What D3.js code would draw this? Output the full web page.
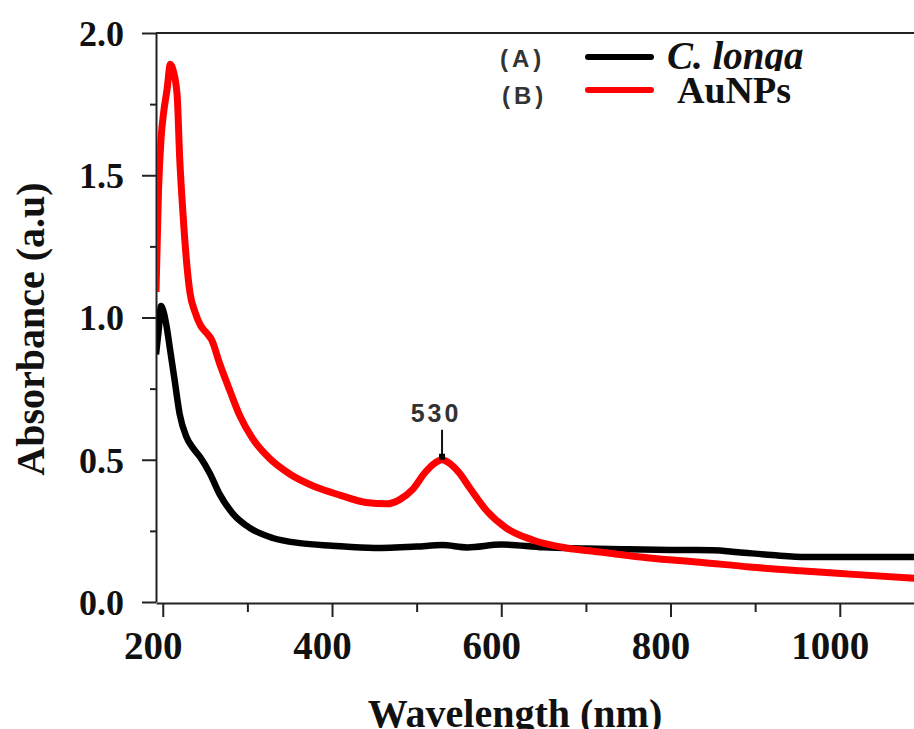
<!DOCTYPE html>
<html>
<head>
<meta charset="utf-8">
<script src="https://cdn.jsdelivr.net/npm/d3@7"></script>
<style>
  body { margin: 0; background: #fff; }
  svg { display: block; }
</style>
</head>
<body>
<div id="chart"></div>
<script>
// wavelength (nm) / absorbance
var longaWl  = [192, 195, 198, 201, 205, 208, 214, 220, 228, 236, 244, 256, 267, 283, 303, 330, 362, 400, 450, 500, 530, 560, 600, 650, 700, 750, 800, 850, 880, 920, 960, 1020, 1090];
var longaAbs = [0.87, 0.95, 1.04, 1.02, 0.96, 0.90, 0.78, 0.66, 0.58, 0.54, 0.51, 0.45, 0.38, 0.31, 0.26, 0.225, 0.207, 0.198, 0.19, 0.195, 0.20, 0.192, 0.202, 0.192, 0.188, 0.185, 0.183, 0.182, 0.175, 0.165, 0.158, 0.158, 0.158];

var aunpWl  = [192, 195, 198, 201, 205, 209, 213, 217, 220, 224, 228, 232, 238, 245, 252, 258, 267, 279, 291, 306, 326, 350, 380, 410, 440, 465, 480, 495, 510, 520, 530, 540, 550, 563, 583, 606, 637, 677, 716, 775, 835, 894, 953, 1012, 1090];
var aunpAbs = [1.09, 1.45, 1.63, 1.72, 1.80, 1.89, 1.86, 1.78, 1.56, 1.36, 1.20, 1.09, 1.02, 0.97, 0.945, 0.92, 0.84, 0.745, 0.655, 0.575, 0.505, 0.45, 0.405, 0.375, 0.35, 0.345, 0.36, 0.395, 0.455, 0.485, 0.50, 0.485, 0.455, 0.40, 0.32, 0.26, 0.218, 0.19, 0.176, 0.155, 0.14, 0.123, 0.11, 0.098, 0.083];

var xTicks = [200, 400, 600, 800, 1000];
var xMinor = [300, 500, 700, 900];
var yTicks = [0, 0.5, 1.0, 1.5, 2.0];
var yMinor = [0.25, 0.75, 1.25, 1.75];
var seriesNames = ["C. longa", "AuNPs"];
var seriesTags = ["(A)", "(B)"];
var peakWl = 530;

var W = 914, H = 729;
var serif = "'Liberation Serif', 'Times New Roman', serif";
var sans = "'Liberation Sans', Arial, sans-serif";

var svg = d3.select("#chart").append("svg")
    .attr("width", W)
    .attr("height", H);

var x = d3.scaleLinear().domain([192, 1100]).range([156, 924.4]);
var y = d3.scaleLinear().domain([0, 2]).range([602, 33]);

// clip so curves stop at the axes / picture edge
svg.append("clipPath").attr("id", "plot")
    .append("rect").attr("x", 157).attr("y", 33).attr("width", W - 157).attr("height", 569);

// minor ticks first
svg.append("g")
    .attr("transform", "translate(0,603)")
    .call(d3.axisBottom(x).tickValues(xMinor).tickSize(9).tickSizeOuter(0).tickFormat(""))
    .call(function (g) { g.select(".domain").remove(); });

svg.append("g")
    .attr("transform", "translate(156,0)")
    .call(d3.axisLeft(y).tickValues(yMinor).tickSize(6).tickSizeOuter(0).tickFormat(""))
    .call(function (g) { g.select(".domain").remove(); });

// x axis
var xAxis = svg.append("g")
    .attr("transform", "translate(0,603)")
    .call(d3.axisBottom(x).tickValues(xTicks).tickSize(14).tickSizeOuter(0).tickFormat(d3.format("d")));
xAxis.selectAll("text")
    .attr("y", 56).attr("dy", 0).attr("dx", -10)
    .attr("font-family", serif).attr("font-weight", "bold").attr("font-size", 39)
    .attr("fill", "#111");

// y axis
var yAxis = svg.append("g")
    .attr("transform", "translate(156,0)")
    .call(d3.axisLeft(y).tickValues(yTicks).tickSize(14).tickSizeOuter(0).tickFormat(d3.format(".1f")));
yAxis.selectAll("text")
    .attr("x", -32).attr("dy", "0.34em")
    .attr("font-family", serif).attr("font-weight", "bold").attr("font-size", 36)
    .attr("fill", "#111");

svg.selectAll(".tick line").attr("stroke", "#222").attr("stroke-width", 2);
svg.selectAll(".domain").attr("stroke", "#222").attr("stroke-width", 2);

// top frame line
svg.append("line")
    .attr("x1", 156).attr("x2", W)
    .attr("y1", y(2)).attr("y2", y(2))
    .attr("stroke", "#222").attr("stroke-width", 2);

// curves
var line = d3.line()
    .x(function (d) { return x(d[0]); })
    .y(function (d) { return y(d[1]); })
    .curve(d3.curveMonotoneX);

var plot = svg.append("g").attr("clip-path", "url(#plot)");

plot.append("path")
    .datum(d3.zip(longaWl, longaAbs))
    .attr("fill", "none")
    .attr("stroke", "#000")
    .attr("stroke-width", 6.5)
    .attr("stroke-linejoin", "round")
    .attr("d", line);

plot.append("path")
    .datum(d3.zip(aunpWl, aunpAbs))
    .attr("fill", "none")
    .attr("stroke", "#ff0000")
    .attr("stroke-width", 7)
    .attr("stroke-linejoin", "round")
    .attr("d", line);

// peak marker
var peakAbs = aunpAbs[aunpWl.indexOf(peakWl)];
svg.append("line")
    .attr("x1", x(peakWl)).attr("x2", x(peakWl))
    .attr("y1", y(peakAbs) - 30).attr("y2", y(peakAbs) - 3)
    .attr("stroke", "#111").attr("stroke-width", 2);
svg.append("rect")
    .attr("x", x(peakWl) - 3).attr("y", y(peakAbs) - 6)
    .attr("width", 6).attr("height", 6)
    .attr("fill", "#000");
svg.append("text")
    .attr("x", x(peakWl) - 6).attr("y", y(peakAbs) - 38)
    .attr("text-anchor", "middle")
    .attr("font-family", sans).attr("font-weight", "bold").attr("font-size", 25)
    .attr("letter-spacing", 3)
    .attr("fill", "#333")
    .text(peakWl);

// legend
var legColors = ["#000", "#ff0000"];
var legY = [57, 90];
legY.forEach(function (ly, i) {
    svg.append("line")
        .attr("x1", 588).attr("x2", 651)
        .attr("y1", ly).attr("y2", ly)
        .attr("stroke", legColors[i]).attr("stroke-width", 6)
        .attr("stroke-linecap", "round");
    svg.append("text")
        .attr("x", 500 + i * 2).attr("y", ly + 10 + i * 4)
        .attr("font-family", sans).attr("font-weight", "bold").attr("font-size", 24)
        .attr("letter-spacing", 4)
        .attr("fill", "#333")
        .text(seriesTags[i]);
});

svg.append("text")
    .attr("x", 667).attr("y", 69)
    .attr("font-family", serif).attr("font-weight", "bold").attr("font-style", "italic")
    .attr("font-size", 39).attr("fill", "#111")
    .text(seriesNames[0]);
// white box behind AuNPs label (clips the descender above, as in the figure)
svg.append("rect")
    .attr("x", 660).attr("y", 71).attr("width", 170).attr("height", 40)
    .attr("fill", "#fff");
svg.append("text")
    .attr("x", 677).attr("y", 103)
    .attr("font-family", serif).attr("font-weight", "bold")
    .attr("font-size", 38).attr("fill", "#111")
    .text(seriesNames[1]);

// axis titles
svg.append("text")
    .attr("x", 515).attr("y", 727)
    .attr("text-anchor", "middle")
    .attr("font-family", serif).attr("font-weight", "bold").attr("font-size", 40)
    .attr("fill", "#111")
    .text("Wavelength (nm)");

svg.append("text")
    .attr("transform", "translate(44,329) rotate(-90)")
    .attr("text-anchor", "middle")
    .attr("font-family", serif).attr("font-weight", "bold").attr("font-size", 40)
    .attr("fill", "#111")
    .text("Absorbance (a.u)");
</script>
</body>
</html>
